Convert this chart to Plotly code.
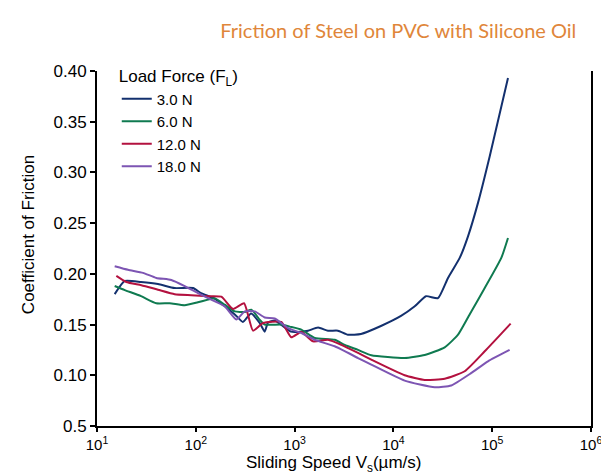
import plotly.graph_objects as go

# Sliding speed (um/s) and coefficient of friction for each load
speed_3N = [15.1, 19.1, 27.9, 41.4, 61.1, 93.7, 113, 155, 196, 248, 300, 362, 443, 498, 538, 629, 728, 920,
            1161, 1367, 1726, 2178, 2748, 3467, 4700, 7480, 11940, 16440, 21380, 28250, 35700, 46900, 56900,
            71800, 94400, 144500]
cof_3N = [0.180, 0.193, 0.192, 0.190, 0.186, 0.186, 0.181, 0.1755, 0.168, 0.160, 0.1526, 0.161, 0.1516, 0.143,
          0.152, 0.154, 0.150, 0.143, 0.143, 0.144, 0.147, 0.144, 0.144, 0.140, 0.1407, 0.1486, 0.1585, 0.168,
          0.178, 0.176, 0.196, 0.2157, 0.237, 0.270, 0.316, 0.393]

speed_6N = [15.1, 19.1, 27.9, 39.8, 54.4, 77.2, 105, 133, 155, 196, 248, 313, 365, 443, 498, 733, 892, 1169,
            1597, 2546, 3214, 4385, 5975, 13000, 20750, 33050, 45100, 61500, 84000, 123600, 144500]
cof_6N = [0.188, 0.184, 0.178, 0.171, 0.171, 0.169, 0.172, 0.1746, 0.176, 0.1696, 0.163, 0.1624, 0.1647, 0.1548,
          0.150, 0.150, 0.148, 0.145, 0.1368, 0.135, 0.130, 0.125, 0.1197, 0.117, 0.120, 0.1276, 0.140, 0.163,
          0.186, 0.2157, 0.2354]

speed_12N = [15.7, 19.8, 28.1, 41.4, 61.1, 90, 133, 181, 238, 308, 379, 479, 733, 926, 1169, 1535, 2178, 2970,
             4385, 5975, 13000, 20750, 33050, 52700, 84000, 153800]
cof_12N = [0.198, 0.192, 0.1888, 0.1844, 0.180, 0.179, 0.178, 0.1775, 0.1654, 0.171, 0.144, 0.1516, 0.1526,
           0.1375, 0.1427, 0.1335, 0.135, 0.130, 0.122, 0.1154, 0.100, 0.0954, 0.0966, 0.104, 0.1237, 0.151]

speed_18N = [15.1, 20.6, 29.2, 39.8, 56.5, 77.2, 105, 133, 196, 257, 313, 395, 498, 629, 857, 1169, 1597, 2546,
             4385, 5975, 13000, 26200, 38500, 61500, 90600, 150000]
cof_18N = [0.2075, 0.204, 0.201, 0.196, 0.194, 0.188, 0.181, 0.176, 0.168, 0.155, 0.163, 0.163, 0.157, 0.156,
           0.1466, 0.1417, 0.135, 0.1286, 0.117, 0.1105, 0.0947, 0.0882, 0.090, 0.1023, 0.1138, 0.125]

series_names = ["3.0 N", "6.0 N", "12.0 N", "18.0 N"]
series_colors = ["#13306e", "#0f7a50", "#b3113f", "#7d55b3"]

y_tickvals = [0.05, 0.10, 0.15, 0.20, 0.25, 0.30, 0.35, 0.40]
y_ticktext = ["0.5", "0.10", "0.15", "0.20", "0.25", "0.30", "0.35", "0.40"]
x_tickvals = [1e1, 1e2, 1e3, 1e4, 1e5, 1e6]
x_ticktext = ["10<sup>1</sup>", "10<sup>2</sup>", "10<sup>3</sup>", "10<sup>4</sup>", "10<sup>5</sup>", "10<sup>6</sup>"]

data = [(speed_3N, cof_3N), (speed_6N, cof_6N), (speed_12N, cof_12N), (speed_18N, cof_18N)]

fig = go.Figure()
for (xs, ys), name, color in zip(data, series_names, series_colors):
    fig.add_trace(go.Scatter(x=xs, y=ys, mode="lines", name=name,
                             line=dict(color=color, width=2, shape="spline", smoothing=0.5)))

font_family = "Arial"

fig.update_layout(
    width=609, height=475,
    margin=dict(l=89, r=26, t=63, b=57),
    paper_bgcolor="white", plot_bgcolor="white",
    font=dict(family=font_family, size=15, color="black"),
    title=dict(text="Friction of Steel on PVC with Silicone Oil",
               font=dict(family="Lato", size=20, color="#e0863a"),
               x=0.61, xref="paper", xanchor="center", y=0.952, yanchor="middle"),
    legend=dict(title=dict(text="Load Force (F<sub>L</sub>)", font=dict(size=17)),
                x=0.04, xanchor="left", y=1.03, yanchor="top",
                bgcolor="rgba(0,0,0,0)", font=dict(size=15), tracegroupgap=0),
    showlegend=True,
    annotations=[
        dict(text="Coefficient of Friction", textangle=-90, showarrow=False,
             xref="paper", yref="paper", x=-0.14, y=0.54, xanchor="center", yanchor="middle",
             font=dict(size=17)),
        dict(text="Sliding Speed V<sub>s</sub>(\u00b5m/s)", showarrow=False,
             xref="paper", yref="paper", x=0.478, y=-0.108, xanchor="center", yanchor="middle",
             font=dict(size=17)),
    ],
)

fig.update_xaxes(type="log", range=[1, 6], tickvals=x_tickvals, ticktext=x_ticktext,
                 showline=True, linecolor="black", linewidth=2, ticks="outside", ticklen=4,
                 tickcolor="black", tickwidth=1.5, showgrid=False, zeroline=False,
                 tickfont=dict(size=15))
fig.update_yaxes(range=[0.05, 0.40], tickvals=y_tickvals, ticktext=y_ticktext,
                 showline=True, mirror=True, linecolor="black", linewidth=2, ticks="outside", ticklen=5,
                 tickcolor="black", tickwidth=1.5, showgrid=False, zeroline=False,
                 tickfont=dict(size=17))

fig.write_html("out.html")
